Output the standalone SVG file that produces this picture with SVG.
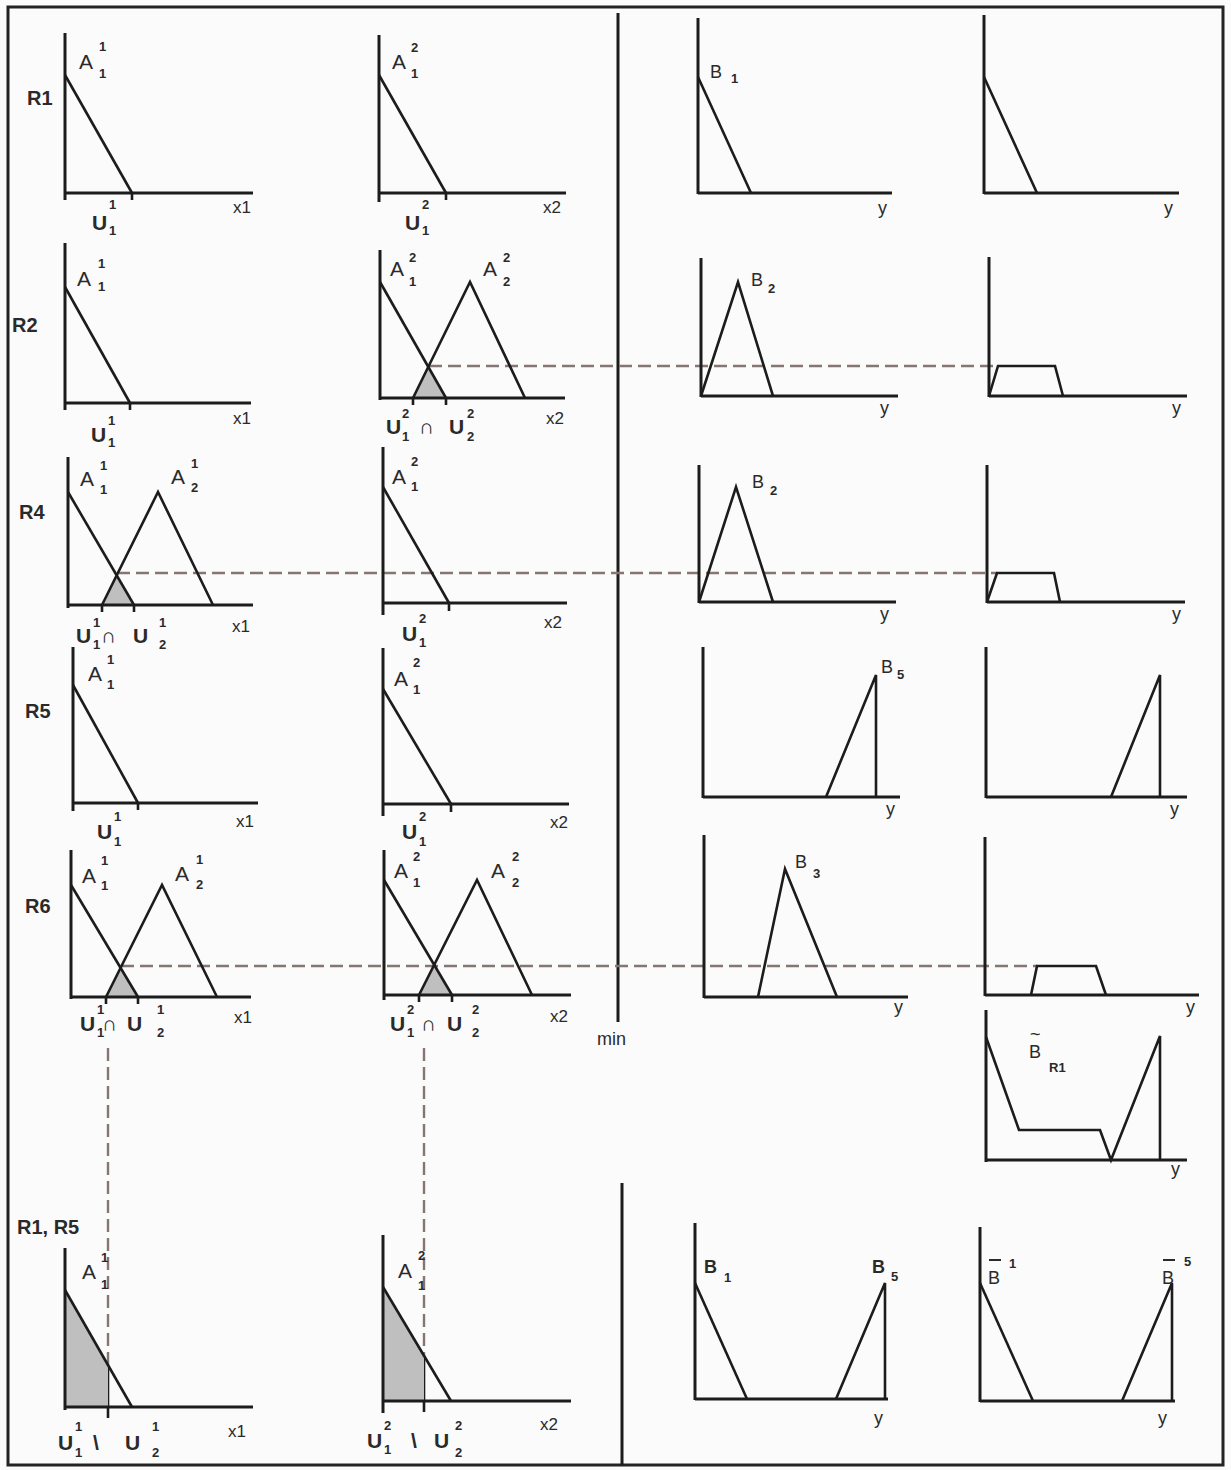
<svg xmlns="http://www.w3.org/2000/svg" width="1231" height="1470" viewBox="0 0 1231 1470">
<style>
.ax{stroke:#1c1c1c;stroke-width:3;fill:none;stroke-linecap:butt}
.cv{stroke:#1c1c1c;stroke-width:2.6;fill:none;stroke-linejoin:miter}
.dh{stroke:#857673;stroke-width:2.4;fill:none;stroke-dasharray:13 6}
.sh{fill:#bfbfbf;stroke:none}
text{font-family:"Liberation Sans","Open Sans",sans-serif;fill:#2a2a2a}
.a{font-size:21px}
.d{font-size:13px;font-weight:bold}
.u{font-size:21px;font-weight:bold}
.n{font-size:21px}
.x{font-size:17px}
.y{font-size:18px}
.b{font-size:18px}
.r{font-size:20px;font-weight:bold}
</style>
<rect x="0" y="0" width="1231" height="1470" fill="#fbfbfb"/>
<rect x="8" y="7" width="1215" height="1458" fill="none" stroke="#222" stroke-width="3"/>

<g id="connectors">
<line class="ax" x1="618" y1="13" x2="618" y2="1022"/>
<line class="ax" x1="622" y1="1183" x2="622" y2="1465"/>
<line class="dh" x1="429" y1="366" x2="998" y2="366"/>
<line class="dh" x1="117" y1="573" x2="997" y2="573"/>
<line class="dh" x1="121" y1="966" x2="1037" y2="966"/>
<line class="dh" x1="108" y1="1048" x2="108" y2="1365"/>
<line class="cv" x1="108" y1="1365" x2="108" y2="1418"/>
<line class="dh" x1="424" y1="1048" x2="424" y2="1356"/>
<line class="cv" x1="424" y1="1356" x2="424" y2="1412"/>
<text x="597" y="1045" class="y">min</text>
</g>

<!-- Row labels -->
<g id="labels">
<text x="27" y="105" class="r">R1</text>
<text x="12" y="332" class="r">R2</text>
<text x="19" y="519" class="r">R4</text>
<text x="25" y="718" class="r">R5</text>
<text x="25" y="913" class="r">R6</text>
<text x="17" y="1234" class="r">R1, R5</text>
</g>

<!-- R1 -->
<g id="r1-x1">
<polyline class="ax" points="65,33 65,200"/>
<line class="ax" x1="65" y1="193" x2="253" y2="193"/>
<line class="cv" x1="65" y1="75" x2="132" y2="193"/>
<line class="cv" x1="132" y1="193" x2="132" y2="200"/>
<text x="79" y="69" class="a">A</text><text x="99" y="51" class="d">1</text><text x="99" y="78" class="d">1</text>
<text x="92" y="230" class="u">U</text><text x="109" y="209" class="d">1</text><text x="109" y="235" class="d">1</text>
<text x="233" y="213" class="x">x1</text>
</g>
<g id="r1-x2">
<polyline class="ax" points="379,35 379,202"/>
<line class="ax" x1="379" y1="193" x2="566" y2="193"/>
<line class="cv" x1="379" y1="75" x2="446" y2="193"/>
<line class="cv" x1="446" y1="193" x2="446" y2="200"/>
<text x="392" y="69" class="a">A</text><text x="411" y="52" class="d">2</text><text x="411" y="78" class="d">1</text>
<text x="405" y="230" class="u">U</text><text x="422" y="209" class="d">2</text><text x="422" y="235" class="d">1</text>
<text x="543" y="213" class="x">x2</text>
</g>
<g id="r1-y">
<polyline class="ax" points="698,18 698,194"/>
<line class="ax" x1="698" y1="193" x2="892" y2="193"/>
<line class="cv" x1="698" y1="77" x2="751" y2="193"/>
<text x="710" y="78" class="b">B</text><text x="731" y="83" class="d">1</text>
<text x="878" y="214" class="y">y</text>
</g>
<g id="r1-out">
<polyline class="ax" points="984,15 984,194"/>
<line class="ax" x1="984" y1="193" x2="1179" y2="193"/>
<line class="cv" x1="984" y1="77" x2="1037" y2="193"/>
<text x="1164" y="214" class="y">y</text>
</g>

<!-- R2 -->
<g id="r2-x1">
<polyline class="ax" points="65,243 65,410"/>
<line class="ax" x1="65" y1="403" x2="251" y2="403"/>
<line class="cv" x1="65" y1="287" x2="130" y2="403"/>
<line class="cv" x1="130" y1="403" x2="130" y2="410"/>
<text x="77" y="286" class="a">A</text><text x="98" y="268" class="d">1</text><text x="98" y="291" class="d">1</text>
<text x="91" y="442" class="u">U</text><text x="108" y="425" class="d">1</text><text x="108" y="447" class="d">1</text>
<text x="233" y="424" class="x">x1</text>
</g>
<g id="r2-x2">
<polygon class="sh" points="413,398 428,367 446,398"/>
<polyline class="ax" points="380,250 380,400"/>
<line class="ax" x1="380" y1="398" x2="565" y2="398"/>
<line class="cv" x1="380" y1="282" x2="446" y2="398"/>
<polyline class="cv" points="413,398 470,282 525,398"/>
<line class="cv" x1="413" y1="398" x2="413" y2="405"/>
<line class="cv" x1="446" y1="398" x2="446" y2="405"/>
<text x="390" y="276" class="a">A</text><text x="409" y="262" class="d">2</text><text x="409" y="286" class="d">1</text>
<text x="483" y="276" class="a">A</text><text x="503" y="262" class="d">2</text><text x="503" y="286" class="d">2</text>
<text x="386" y="434" class="u">U</text><text x="402" y="418" class="d">2</text><text x="402" y="441" class="d">1</text>
<text x="419" y="434" class="n">∩</text>
<text x="449" y="434" class="u">U</text><text x="467" y="418" class="d">2</text><text x="467" y="441" class="d">2</text>
<text x="546" y="424" class="x">x2</text>
</g>
<g id="r2-y">
<polyline class="ax" points="701,258 701,397"/>
<line class="ax" x1="701" y1="396" x2="898" y2="396"/>
<polyline class="cv" points="701,396 738,282 773,396"/>
<text x="751" y="286" class="b">B</text><text x="768" y="293" class="d">2</text>
<text x="880" y="414" class="y">y</text>
</g>
<g id="r2-out">
<polyline class="ax" points="989,257 989,397"/>
<line class="ax" x1="989" y1="396" x2="1187" y2="396"/>
<polyline class="cv" points="989,396 998,366 1055,366 1063,396"/>
<text x="1172" y="414" class="y">y</text>
</g>

<!-- R4 -->
<g id="r4-x1">
<polygon class="sh" points="102,605 117,575 134,605"/>
<polyline class="ax" points="68,457 68,608"/>
<line class="ax" x1="68" y1="605" x2="253" y2="605"/>
<line class="cv" x1="68" y1="492" x2="134" y2="605"/>
<polyline class="cv" points="102,605 158,492 213,605"/>
<line class="cv" x1="102" y1="605" x2="102" y2="612"/>
<line class="cv" x1="134" y1="605" x2="134" y2="612"/>
<text x="80" y="486" class="a">A</text><text x="100" y="470" class="d">1</text><text x="100" y="494" class="d">1</text>
<text x="171" y="484" class="a">A</text><text x="191" y="468" class="d">1</text><text x="191" y="492" class="d">2</text>
<text x="76" y="643" class="u">U</text><text x="93" y="627" class="d">1</text><text x="93" y="649" class="d">1</text>
<text x="101" y="643" class="n">∩</text>
<text x="133" y="643" class="u">U</text><text x="159" y="627" class="d">1</text><text x="159" y="649" class="d">2</text>
<text x="232" y="632" class="x">x1</text>
</g>
<g id="r4-x2">
<polyline class="ax" points="383,447 383,615"/>
<line class="ax" x1="383" y1="603" x2="567" y2="603"/>
<line class="cv" x1="383" y1="487" x2="449" y2="603"/>
<line class="cv" x1="449" y1="603" x2="449" y2="611"/>
<text x="392" y="484" class="a">A</text><text x="411" y="466" class="d">2</text><text x="411" y="491" class="d">1</text>
<text x="402" y="641" class="u">U</text><text x="419" y="623" class="d">2</text><text x="419" y="647" class="d">1</text>
<text x="544" y="628" class="x">x2</text>
</g>
<g id="r4-y">
<polyline class="ax" points="699,465 699,603"/>
<line class="ax" x1="699" y1="602" x2="896" y2="602"/>
<polyline class="cv" points="699,602 736,487 773,602"/>
<text x="752" y="488" class="b">B</text><text x="770" y="495" class="d">2</text>
<text x="880" y="620" class="y">y</text>
</g>
<g id="r4-out">
<polyline class="ax" points="987,465 987,603"/>
<line class="ax" x1="987" y1="602" x2="1185" y2="602"/>
<polyline class="cv" points="987,602 997,573 1054,573 1060,602"/>
<text x="1172" y="620" class="y">y</text>
</g>

<!-- R5 -->
<g id="r5-x1">
<polyline class="ax" points="73,647 73,811"/>
<line class="ax" x1="73" y1="803" x2="258" y2="803"/>
<line class="cv" x1="73" y1="685" x2="138" y2="803"/>
<line class="cv" x1="138" y1="803" x2="138" y2="810"/>
<text x="88" y="681" class="a">A</text><text x="107" y="664" class="d">1</text><text x="107" y="689" class="d">1</text>
<text x="97" y="839" class="u">U</text><text x="114" y="821" class="d">1</text><text x="114" y="846" class="d">1</text>
<text x="236" y="827" class="x">x1</text>
</g>
<g id="r5-x2">
<polyline class="ax" points="383,648 383,816"/>
<line class="ax" x1="383" y1="804" x2="569" y2="804"/>
<line class="cv" x1="383" y1="689" x2="451" y2="804"/>
<line class="cv" x1="451" y1="804" x2="451" y2="812"/>
<text x="394" y="686" class="a">A</text><text x="413" y="667" class="d">2</text><text x="413" y="694" class="d">1</text>
<text x="402" y="839" class="u">U</text><text x="419" y="821" class="d">2</text><text x="419" y="846" class="d">1</text>
<text x="550" y="828" class="x">x2</text>
</g>
<g id="r5-y">
<polyline class="ax" points="703,647 703,798"/>
<line class="ax" x1="703" y1="797" x2="900" y2="797"/>
<polyline class="cv" points="826,797 876,675 876,797"/>
<text x="881" y="673" class="b">B</text><text x="897" y="679" class="d">5</text>
<text x="886" y="815" class="y">y</text>
</g>
<g id="r5-out">
<polyline class="ax" points="986,647 986,798"/>
<line class="ax" x1="986" y1="797" x2="1187" y2="797"/>
<polyline class="cv" points="1111,797 1160,675 1160,797"/>
<text x="1170" y="815" class="y">y</text>
</g>

<!-- R6 -->
<g id="r6-x1">
<polygon class="sh" points="106,997 120,967 138,997"/>
<polyline class="ax" points="71,850 71,999"/>
<line class="ax" x1="71" y1="997" x2="251" y2="997"/>
<line class="cv" x1="71" y1="885" x2="138" y2="997"/>
<polyline class="cv" points="106,997 162,885 217,997"/>
<line class="cv" x1="106" y1="997" x2="106" y2="1004"/>
<line class="cv" x1="138" y1="997" x2="138" y2="1004"/>
<text x="82" y="883" class="a">A</text><text x="101" y="865" class="d">1</text><text x="101" y="890" class="d">1</text>
<text x="175" y="881" class="a">A</text><text x="196" y="864" class="d">1</text><text x="196" y="889" class="d">2</text>
<text x="80" y="1031" class="u">U</text><text x="97" y="1014" class="d">1</text><text x="97" y="1037" class="d">1</text>
<text x="102" y="1031" class="n">∩</text>
<text x="127" y="1031" class="u">U</text><text x="157" y="1014" class="d">1</text><text x="157" y="1037" class="d">2</text>
<text x="234" y="1023" class="x">x1</text>
</g>
<g id="r6-x2">
<polygon class="sh" points="419,995 434,966 452,995"/>
<polyline class="ax" points="384,850 384,1000"/>
<line class="ax" x1="384" y1="995" x2="571" y2="995"/>
<line class="cv" x1="384" y1="880" x2="452" y2="995"/>
<polyline class="cv" points="419,995 477,880 532,995"/>
<line class="cv" x1="419" y1="995" x2="419" y2="1002"/>
<line class="cv" x1="452" y1="995" x2="452" y2="1002"/>
<text x="394" y="878" class="a">A</text><text x="413" y="861" class="d">2</text><text x="413" y="887" class="d">1</text>
<text x="491" y="878" class="a">A</text><text x="512" y="861" class="d">2</text><text x="512" y="887" class="d">2</text>
<text x="390" y="1031" class="u">U</text><text x="407" y="1014" class="d">2</text><text x="407" y="1037" class="d">1</text>
<text x="421" y="1031" class="n">∩</text>
<text x="447" y="1031" class="u">U</text><text x="472" y="1014" class="d">2</text><text x="472" y="1037" class="d">2</text>
<text x="550" y="1022" class="x">x2</text>
</g>
<g id="r6-y">
<polyline class="ax" points="704,835 704,998"/>
<line class="ax" x1="704" y1="997" x2="908" y2="997"/>
<polyline class="cv" points="758,997 785,869 837,997"/>
<text x="795" y="868" class="b">B</text><text x="813" y="878" class="d">3</text>
<text x="894" y="1013" class="y">y</text>
</g>
<g id="r6-out">
<polyline class="ax" points="985,837 985,996"/>
<line class="ax" x1="985" y1="995" x2="1199" y2="995"/>
<polyline class="cv" points="1031,995 1037,966 1096,966 1106,995"/>
<text x="1186" y="1013" class="y">y</text>
</g>

<!-- aggregate B~R1 -->
<g id="b-tilde-r1">
<polyline class="ax" points="986,1010 986,1162"/>
<line class="ax" x1="986" y1="1160" x2="1187" y2="1160"/>
<polyline class="cv" points="986,1037 1019,1130 1100,1130 1111,1160 1160,1036 1160,1160"/>
<text x="1030" y="1040" class="b">~</text>
<text x="1029" y="1058" class="b">B</text><text x="1049" y="1072" class="d">R1</text>
<text x="1171" y="1175" class="y">y</text>
</g>

<!-- bottom row -->
<g id="b-x1">
<polygon class="sh" points="65,1290 108,1365 108,1407 65,1407"/>
<polyline class="ax" points="65,1248 65,1410"/>
<line class="ax" x1="65" y1="1407" x2="253" y2="1407"/>
<line class="cv" x1="65" y1="1290" x2="132" y2="1407"/>
<text x="82" y="1279" class="a">A</text><text x="101" y="1262" class="d">1</text><text x="101" y="1289" class="d">1</text>
<text x="58" y="1450" class="u">U</text><text x="75" y="1431" class="d">1</text><text x="75" y="1457" class="d">1</text>
<text x="93" y="1450" class="u">\</text>
<text x="125" y="1450" class="u">U</text><text x="152" y="1431" class="d">1</text><text x="152" y="1457" class="d">2</text>
<text x="228" y="1437" class="x">x1</text>
</g>
<g id="b-x2">
<polygon class="sh" points="383,1287 424,1356 424,1401 383,1401"/>
<polyline class="ax" points="383,1235 383,1413"/>
<line class="ax" x1="383" y1="1401" x2="571" y2="1401"/>
<line class="cv" x1="383" y1="1287" x2="451" y2="1401"/>
<text x="398" y="1278" class="a">A</text><text x="418" y="1260" class="d">2</text><text x="418" y="1290" class="d">1</text>
<text x="367" y="1448" class="u">U</text><text x="384" y="1430" class="d">2</text><text x="384" y="1454" class="d">1</text>
<text x="411" y="1448" class="u">\</text>
<text x="434" y="1448" class="u">U</text><text x="455" y="1430" class="d">2</text><text x="455" y="1457" class="d">2</text>
<text x="540" y="1430" class="x">x2</text>
</g>
<g id="b-y">
<polyline class="ax" points="695,1223 695,1400"/>
<line class="ax" x1="695" y1="1399" x2="888" y2="1399"/>
<line class="cv" x1="695" y1="1283" x2="747" y2="1399"/>
<polyline class="cv" points="836,1399 885,1283 885,1399"/>
<text x="704" y="1273" class="b" font-weight="bold">B</text><text x="724" y="1282" class="d">1</text>
<text x="872" y="1273" class="b" font-weight="bold">B</text><text x="891" y="1281" class="d">5</text>
<text x="874" y="1424" class="y">y</text>
</g>
<g id="b-out">
<polyline class="ax" points="980,1227 980,1402"/>
<line class="ax" x1="980" y1="1401" x2="1175" y2="1401"/>
<line class="cv" x1="980" y1="1283" x2="1033" y2="1401"/>
<polyline class="cv" points="1122,1401 1172,1283 1172,1401"/>
<line x1="989" y1="1260" x2="1001" y2="1260" stroke="#2a2a2a" stroke-width="2"/>
<text x="988" y="1284" class="b">B</text><text x="1009" y="1268" class="d">1</text>
<line x1="1163" y1="1260" x2="1175" y2="1260" stroke="#2a2a2a" stroke-width="2"/>
<text x="1162" y="1284" class="b">B</text><text x="1184" y="1266" class="d">5</text>
<text x="1158" y="1424" class="y">y</text>
</g>
</svg>
